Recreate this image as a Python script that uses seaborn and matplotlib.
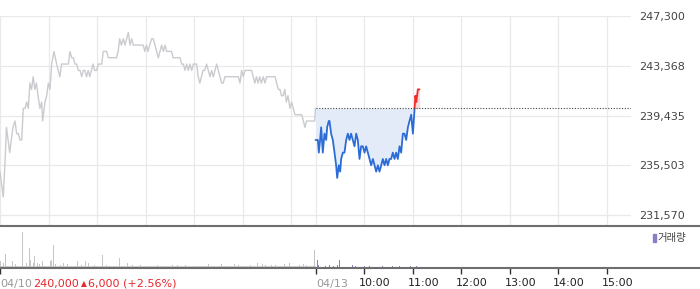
import matplotlib
matplotlib.use("Agg")
import matplotlib.pyplot as plt
import seaborn as sns
import numpy as np
import pandas as pd

# ---------------- data ----------------
# day 1 (04/10): minutes since 09:00, price
day1_min = [0, 2, 4, 6, 8, 10, 12, 14, 16, 18.5, 20.6, 22.7, 24.7, 26.8, 28.8, 31, 33, 35, 37, 39,
            41, 43, 45, 47, 49.4, 51.5, 52.7, 55.6, 57.7, 59.7, 61.8, 63.9, 66.7, 70, 72, 74, 76, 80,
            84.5, 86.5, 88.6, 90.6, 92.7, 94.8, 96.8, 99, 101, 103, 105, 107, 109, 111, 113, 115,
            117, 119.5, 121.5, 123.6, 125.7, 127.7, 129.8, 131.8, 134, 144, 146, 148, 150, 152.4,
            154.5, 156.6, 158.6, 160.7, 162.7, 164.8, 177, 179, 181, 183, 185, 187.5, 189.5, 191.6,
            193.6, 195.7, 197.8, 199.8, 202, 204, 206, 212, 214, 222.5, 224.5, 226.6, 228.7, 230.7,
            232.8, 234.8, 237, 239, 243, 245, 247, 249, 251, 253, 255.4, 257.5, 259.6, 261.6, 263.7,
            265.7, 267.8, 269.9, 272, 274, 276, 278, 280, 294.6, 296.6, 298.7, 300.8, 302.8, 305,
            307, 309, 311, 313, 315, 317, 319, 321, 323, 325.5, 327.5, 329.6, 340, 342, 344, 346,
            348, 350, 352, 354, 356, 358.4, 360.5, 362.6, 364.6, 366.7, 370.8, 373, 375, 377, 379,
            389, 390]
day1_price = [235000, 234000, 233000, 235500, 238500, 237500, 236500, 237500, 238500, 239000, 238000,
              238000, 237500, 237500, 240000, 240000, 240500, 240000, 242000, 241500, 242500, 241500,
              242000, 241000, 240000, 240500, 239000, 240500, 241000, 242000, 241500, 243500, 244500,
              243500, 243000, 242500, 243500, 243500, 243500, 244500, 244000, 244000, 243500, 243500,
              243000, 243000, 242500, 243000, 243000, 242500, 243000, 242500, 243000, 243500, 243000,
              243000, 243500, 243500, 243500, 244500, 244500, 244500, 244000, 244000, 244500, 245500,
              245000, 245500, 245000, 245500, 246000, 245000, 245500, 245000, 245000, 244500, 245000,
              244500, 245000, 245500, 245500, 245000, 244500, 244000, 244500, 245000, 244500, 245000,
              244500, 244500, 244000, 244000, 243500, 243500, 243000, 243500, 243000, 243500, 243000,
              243500, 243500, 242500, 242000, 242500, 243000, 243000, 243500, 243000, 242500, 243000,
              242500, 243000, 243500, 243000, 242500, 242000, 242000, 242500, 242500, 242500, 242000,
              243000, 242500, 243000, 243000, 243000, 243000, 243000, 242500, 242000, 242500, 242000,
              242500, 242000, 242500, 242000, 242500, 242500, 242000, 241500, 241500, 241000, 241000,
              241500, 240500, 241000, 240000, 240500, 240000, 239500, 239500, 239500, 239500, 239000,
              238500, 239000, 239000, 240000]

# day 2 (04/13): minutes since 09:00, price
day2_min = [0, 2.9, 4.1, 5.7, 7, 9, 11.1, 13.2, 14.4, 16.4, 17.3, 19.3, 21.4, 23.5, 25.5, 26.8, 28.8,
            30.5, 31.7, 33.8, 35.8, 37.9, 40, 42, 44, 46.1, 48.2, 50.3, 52.3, 54.4, 56.4, 58.5, 60.6,
            62.6, 64.7, 66.8, 68.8, 70.9, 73, 75, 77.1, 79.1, 81.2, 83.2, 85.3, 87.4, 89.4, 91.5,
            93.5, 95.6, 97.7, 99.7, 101.8, 103.9, 105.9, 108, 110, 112.1, 114.2, 116.2, 118.3,
            120.4, 122.5]
day2_price = [237500, 237500, 236500, 237500, 238500, 236500, 238000, 237500, 238500, 239000, 239000,
              238000, 237500, 236500, 235500, 234500, 235500, 235000, 236000, 236500, 236500, 237500,
              238000, 237500, 238000, 237500, 237000, 238000, 237500, 236000, 237000, 237000, 236500,
              237000, 236500, 236000, 235500, 236000, 235500, 235000, 235500, 235000, 235500, 236000,
              235500, 236000, 235500, 236000, 236000, 236500, 236000, 236500, 236000, 237000, 236500,
              238000, 238000, 237500, 238500, 239000, 239500, 238000, 240000]
day2_up_min = [122.5, 123.5, 124.6, 126.5, 128.6]
day2_up_price = [240000, 241000, 240500, 241500, 241500]
ref_price = 240000

# volume (thousand shares): minute on the two-day axis, value
vol_min_d1 = [1, 4, 7, 10, 15, 19, 26, 28, 33, 36, 38, 41, 43, 46, 49, 53, 58, 62, 64, 66, 69, 75, 78,
              83, 84, 89, 96, 101, 106, 109, 117, 127, 132, 135, 147, 148, 152, 157, 158, 164, 174,
              188, 194, 195, 204, 213, 219, 229, 236, 246, 251, 258, 267, 274, 277, 290, 295, 310,
              314, 318, 324, 328, 336, 341, 346, 352, 358, 361, 370, 375, 379, 389]
vol_d1 = [6.7, 5, 14, 7, 7, 4, 3, 36, 5, 20, 8, 5, 12, 5, 4, 7, 11, 7, 8, 23, 4, 3, 5, 4, 5, 7, 7, 3,
          7, 5, 3, 13, 3, 2, 5, 10, 6, 3, 5, 3, 3, 2.5, 2.5, 3, 5, 2.5, 2.5, 3, 3, 10, 2.5, 4, 3, 4,
          4, 4, 2.5, 2.5, 5, 5, 4, 2.5, 2.5, 2.5, 2.5, 4, 5, 5, 2.5, 4, 2.5, 18]
vol_min_d2 = [392, 394, 398, 402, 407, 412, 417, 420, 424, 429, 436, 439, 445, 451, 457, 466, 473,
              485, 494, 503, 507, 513, 515]
vol_d2 = [8, 3, 3, 2, 3, 2, 3, 8, 2, 2, 3, 2, 6, 2, 1.5, 1.5, 1.5, 1.5, 1.5, 1.5, 2, 3, 2]
vol_floor_min = [0, 390, 390, 440]
vol_floor = [1.5, 1.5, 1.2, 1.2]

y_ticks = [231570, 235503, 239435, 243368, 247300]
time_ticks = [450, 510, 570, 630, 690, 750]
time_labels = ["10:00", "11:00", "12:00", "13:00", "14:00", "15:00"]
date_labels = ["04/10", "04/13"]
price_text = ["240,000", "\u25b2", "6,000 (+2.56%)"]
vol_label = "거래량"

# ---------------- style ----------------
sns.set_style("white")
plt.rcParams['font.family'] = ['DejaVu Sans', 'Noto Sans CJK KR']

W, H = 700, 289
fig = plt.figure(figsize=(W / 100, H / 100), dpi=100)

def fx(px):
    return px / W

def fy(py):
    return 1 - py / H

plot_right = 631
ax = fig.add_axes([0, fy(225), fx(plot_right), fy(16) - fy(225)])
ax.set_xlim(0, 780)
ax.set_ylim(230780, 247300)

grid_c = "#e9e9e9"
for v in [0, 60, 120, 180, 240, 300, 360, 390] + time_ticks:
    ax.axvline(v, ymax=1.0, color=grid_c, lw=0.9, zorder=0)
for v in y_ticks:
    ax.axhline(v, color=grid_c, lw=0.9, zorder=0)

d1 = pd.DataFrame({"t": day1_min, "p": day1_price})
d2 = pd.DataFrame({"t": np.array(day2_min) + 390, "p": day2_price})
d2u = pd.DataFrame({"t": np.array(day2_up_min) + 390, "p": day2_up_price})

# fills
ax.fill_between(d2["t"], d2["p"], ref_price, color="#e3ebf8", lw=0, zorder=1)
ax.fill_between(d2u["t"], d2u["p"], ref_price, color="#fcd9d9", lw=0, zorder=1)

sns.lineplot(data=d1, x="t", y="p", ax=ax, color="#c9cbcf", lw=1.0, estimator=None, sort=False, zorder=3)
sns.lineplot(data=d2, x="t", y="p", ax=ax, color="#2b6cd6", lw=1.3, estimator=None, sort=False, zorder=4)
sns.lineplot(data=d2u, x="t", y="p", ax=ax, color="#f22a2a", lw=1.3, estimator=None, sort=False, zorder=4)
ax.hlines(ref_price, 390, 780, colors="#444444", linestyles=(0, (1, 1.5)), lw=0.8, zorder=5)

ax.set_xlabel("")
ax.set_ylabel("")
ax.set_xticks([])
ax.yaxis.tick_right()
ax.set_yticks(y_ticks)
ax.set_yticklabels([f"{v:,}" for v in y_ticks])
ax.tick_params(axis="y", length=0, pad=6, labelsize=8, labelcolor="#444444")
for s in ax.spines.values():
    s.set_visible(False)

# ---------------- volume panel ----------------
axv = fig.add_axes([0, fy(268), 1, fy(225.5) - fy(268)])
xmax_v = 780 * W / plot_right
axv.set_xlim(0, xmax_v)
axv.set_ylim(0, 42)
axv.fill_between(vol_floor_min[:2], 0, vol_floor[:2], color="#cfd0d3", lw=0, zorder=1)
axv.fill_between(vol_floor_min[2:], 0, vol_floor[2:], color="#b3a6d8", lw=0, zorder=1)
axv.bar(vol_min_d1, vol_d1, width=1.0, color="#c4c5c8", lw=0, zorder=2)
axv.bar(vol_min_d2, vol_d2, width=1.0, color="#8e7cc6", lw=0, zorder=2)
axv.set_yticks([])
axv.set_xticks([0, 390] + time_ticks)
axv.set_xticklabels([])
axv.tick_params(axis="x", direction="out", length=4, width=1, color="#333333", bottom=True)
for k in ["left", "right"]:
    axv.spines[k].set_visible(False)
for k in ["top", "bottom"]:
    axv.spines[k].set_color("#6e6e6e")
    axv.spines[k].set_linewidth(1.5)

# legend
fig.patches.append(plt.Rectangle((fx(653), fy(242)), fx(3), fy(234) - fy(242),
                                 transform=fig.transFigure, color="#8e7cc6", figure=fig))
fig.text(fx(657), fy(238.5), vol_label, fontsize=7.5, color="#444444", va="center", ha="left")

# bottom labels
ly = fy(283.5)
fig.text(fx(0), ly, date_labels[0], fontsize=8, color="#999999", va="center", ha="left")
fig.text(fx(33), ly, price_text[0], fontsize=8, color="#e8262b", va="center", ha="left")
fig.text(fx(80.5), ly, price_text[1], fontsize=5.5, color="#e8262b", va="center", ha="left")
fig.text(fx(88), ly, price_text[2], fontsize=8, color="#e8262b", va="center", ha="left")
fig.text(fx(316), ly, date_labels[1], fontsize=8, color="#999999", va="center", ha="left")
for t, lab in zip(time_ticks, time_labels):
    px = t * plot_right / 780
    fig.text(fx(px - 5), ly, lab, fontsize=8, color="#222222", va="center", ha="left")

fig.savefig("out.png", dpi=100)
